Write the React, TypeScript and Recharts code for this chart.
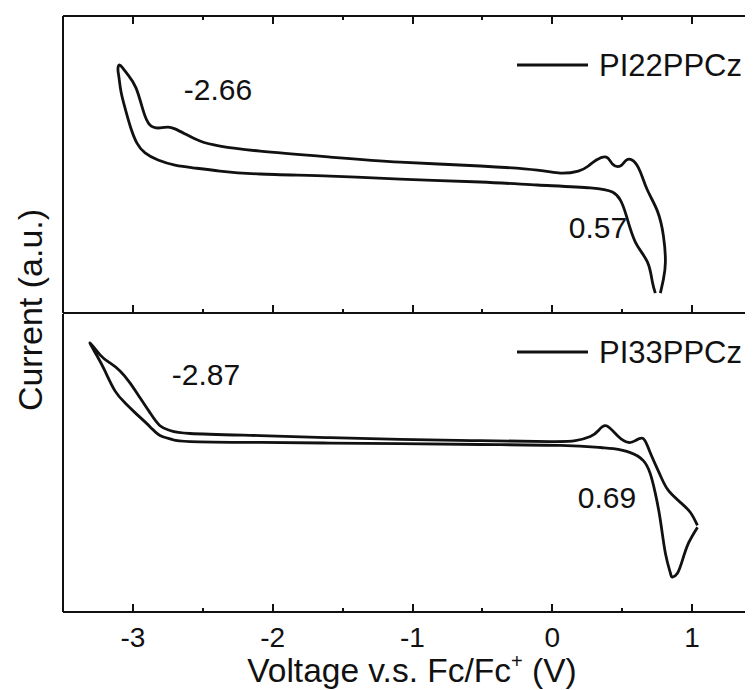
import { LineChart, Line, XAxis, YAxis } from "recharts";

const FONT = '"Liberation Sans", Arial, Helvetica, sans-serif';
const INK = "#111";

// x axis ticks: integers get labels, half units are minor ticks
const voltTicks = [-3, -2.5, -2, -1.5, -1, -0.5, 0, 0.5, 1];

// PI22PPCz cyclic voltammogram (closed loop, arbitrary current units)
const pi22Volt = [
  0.773, 0.795, 0.809, 0.795, 0.752, 0.68, 0.63, 0.58, 0.53, 0.487, 0.43,
  0.387, 0.315, 0.258, 0.186, 0.057, -0.107, -0.515, -1.088, -1.589, -2.09,
  -2.377, -2.52, -2.627, -2.699, -2.749, -2.806, -2.878, -2.928, -2.978,
  -3.035, -3.075, -3.098, -3.107, -3.1, -3.085, -3.055, -3.015, -2.971,
  -2.913, -2.82, -2.699, -2.556, -2.377, -2.09, -1.589, -1.088, -0.515,
  -0.107, 0.272, 0.43, 0.487, 0.53, 0.594, 0.68, 0.716, 0.737, 0.773,
];
const pi22Current = [
  6.7, 11.4, 17.2, 25.9, 34.3, 41.4, 47.5, 51.2, 51.5, 49.5, 50.2, 52.5,
  51.5, 49.5, 47.8, 47.1, 48.1, 49.5, 50.8, 52.5, 54.5, 56.2, 57.9, 60.3,
  62.0, 62.6, 62.3, 63.3, 68.4, 75.8, 80.2, 82.6, 83.5, 82.0, 79.4, 74.5,
  68.8, 62.3, 57.2, 53.9, 51.5, 49.8, 48.8, 47.8, 46.8, 46.1, 45.1, 44.1,
  43.1, 42.1, 40.7, 38.0, 32.7, 23.9, 17.2, 10.4, 6.7,
];

// PI33PPCz cyclic voltammogram
const pi33Volt = [
  1.038, 0.988, 0.916, 0.83, 0.773, 0.7, 0.651, 0.594, 0.544, 0.472, 0.387,
  0.33, 0.272, 0.165, -0.014, -0.515, -1.088, -1.589, -2.09, -2.591, -2.734,
  -2.806, -2.878, -2.949, -3.021, -3.092, -3.164, -3.235, -3.307, -3.257,
  -3.2, -3.128, -3.057, -2.985, -2.878, -2.806, -2.72, -2.591, -2.09,
  -1.589, -1.088, -0.515, 0.057, 0.344, 0.437, 0.558, 0.651, 0.7, 0.737,
  0.773, 0.809, 0.845, 0.859, 0.895, 0.931, 0.974, 1.038,
];
const pi33Current = [
  29.1, 33.4, 36.8, 40.8, 45.8, 53.5, 58.2, 57.5, 56.9, 58.9, 62.5, 60.9,
  58.9, 57.5, 57.2, 57.5, 57.9, 58.5, 59.2, 59.9, 60.9, 62.5, 66.9, 71.9,
  76.9, 80.9, 83.6, 86.3, 90.3, 86.0, 80.9, 74.2, 70.2, 66.9, 62.2, 59.2,
  57.9, 57.2, 56.9, 56.7, 56.5, 56.2, 55.9, 55.2, 54.8, 53.5, 50.8, 46.5,
  39.8, 30.8, 19.7, 13.0, 11.7, 13.0, 17.4, 23.1, 28.4,
];

const pi22 = pi22Volt.map((v, k) => ({ v, i: pi22Current[k] }));
const pi33 = pi33Volt.map((v, k) => ({ v, i: pi33Current[k] }));

// plot geometry shared by both panels (svg x: 55..754 for -3.5..1.5 V)
const PLOT_LEFT = 55;
const PX_PER_VOLT = 699 / 5;

// labels only under integer volts
function TickLabel(props: any) {
  const val = Number(props.payload?.value);
  if (!Number.isInteger(val)) return <g />;
  return (
    <text
      x={props.x}
      y={Number(props.y) + 25}
      textAnchor="middle"
      dominantBaseline="central"
      fontSize={28}
      fontFamily={FONT}
      fill={INK}
    >
      {val}
    </text>
  );
}

const axisStroke = { stroke: INK, strokeWidth: 2 };

function Panel({ data, height, margin, bottomHeight, labels, topAxis }: any) {
  return (
    <LineChart width={800} height={height} margin={margin}>
      <XAxis
        dataKey="v"
        type="number"
        domain={[-3.5, 1.5]}
        ticks={voltTicks}
        interval={0}
        height={bottomHeight}
        tickSize={0}
        tickMargin={0}
        tickLine={false}
        axisLine={axisStroke}
        tick={labels ? TickLabel : false}
      />
      {topAxis && (
        <XAxis
          xAxisId="top"
          orientation="top"
          dataKey="v"
          type="number"
          domain={[-3.5, 1.5]}
          height={1}
          tick={false}
          tickLine={false}
          axisLine={axisStroke}
        />
      )}
      <YAxis
        type="number"
        domain={[0, 100]}
        width={1}
        tick={false}
        tickLine={false}
        axisLine={axisStroke}
      />
      <Line
        data={data}
        type="natural"
        dataKey="i"
        stroke={INK}
        strokeWidth={2.8}
        dot={false}
        isAnimationActive={false}
      />
    </LineChart>
  );
}

// inward tick marks along one horizontal frame edge (y in wrapper px)
function EdgeTicks({ y, up }: any) {
  return (
    <>
      {voltTicks.map((t) => {
        const len = Number.isInteger(t) ? 8 : 4;
        const x = PLOT_LEFT + (t + 3.5) * PX_PER_VOLT;
        return (
          <div
            key={`${y}-${t}`}
            style={{
              position: "absolute",
              left: x - 1,
              top: up ? y - len : y,
              width: 2,
              height: len,
              background: INK,
            }}
          />
        );
      })}
    </>
  );
}

const abs: any = {
  position: "absolute",
  fontFamily: FONT,
  color: INK,
  whiteSpace: "nowrap",
  lineHeight: 1,
};

function Note({ x, y, size, children }: any) {
  return (
    <div style={{ ...abs, left: x - 8, top: y - 8, fontSize: size, transform: "translate(-50%, -50%)" }}>
      {children}
    </div>
  );
}

function LegendKey({ x, y, name }: any) {
  return (
    <div
      style={{
        ...abs,
        left: x - 8,
        top: y - 8,
        transform: "translateY(-50%)",
        display: "flex",
        alignItems: "center",
        fontSize: 31,
      }}
    >
      <span style={{ display: "inline-block", width: 71, height: 3, background: INK, marginRight: 11 }} />
      {name}
    </div>
  );
}

export default function App() {
  return (
    <div style={{ position: "relative", width: 745, height: 682, overflow: "hidden" }}>
      <Panel
        data={pi22}
        height={306}
        bottomHeight={1}
        margin={{ top: 7, right: 46, bottom: 0, left: 54 }}
        topAxis
      />
      <Panel
        data={pi33}
        height={376}
        bottomHeight={78}
        margin={{ top: 0, right: 46, bottom: 0, left: 54 }}
        labels
      />

      <EdgeTicks y={8} up={false} />
      <EdgeTicks y={305} up />
      <EdgeTicks y={604} up />

      <LegendKey x={517} y={65} name="PI22PPCz" />
      <LegendKey x={517} y={352} name="PI33PPCz" />
      <Note x={218} y={90} size={30}>-2.66</Note>
      <Note x={598} y={228} size={30}>0.57</Note>
      <Note x={206} y={375} size={30}>-2.87</Note>
      <Note x={607} y={498} size={30}>0.69</Note>

      <div
        style={{
          ...abs,
          left: 30 - 8,
          top: 310 - 8,
          fontSize: 34,
          transform: "translate(-50%, -50%) rotate(-90deg)",
        }}
      >
        Current (a.u.)
      </div>
      <div style={{ ...abs, left: 412 - 8, top: 669 - 8, fontSize: 33.5, transform: "translate(-50%, -50%)" }}>
        Voltage v.s. Fc/Fc<sup style={{ fontSize: "0.6em", verticalAlign: "0.7em" }}>+</sup> (V)
      </div>
    </div>
  );
}
